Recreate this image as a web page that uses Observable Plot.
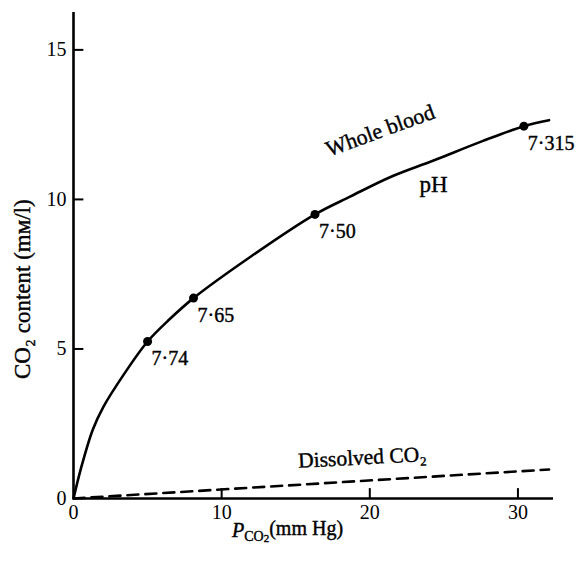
<!DOCTYPE html>
<html>
<head>
<meta charset="utf-8">
<script src="https://cdn.jsdelivr.net/npm/d3@7"></script>
<script src="https://cdn.jsdelivr.net/npm/@observablehq/plot@0.6"></script>
<style>
  html, body { margin: 0; padding: 0; background: #fff; }
  svg { display: block; }
</style>
</head>
<body>
<div id="chart"></div>
<script>
// Whole blood CO2 dissociation curve
const wholeX = [0, 0.5, 1.3, 2.0, 3.4, 5.0, 6.5, 8.1, 12.0, 16.3, 18.7, 21.4, 24.3, 27.6, 30.4, 32.1];
const wholeY = [0, 1.0, 2.3, 3.05, 4.15, 5.25, 6.0, 6.7, 8.1, 9.5, 10.1, 10.75, 11.3, 11.95, 12.45, 12.65];
// Marked pH points
const phX = [5.0, 8.1, 16.3, 30.4];
const phY = [5.25, 6.7, 9.5, 12.45];
const phLabels = ["7·74", "7·65", "7·50", "7·315"];
// Dissolved CO2 line
const dissX = [0, 32.1];
const dissY = [0, 0.97];
// Axis ticks
const xTicks = [0, 10, 20, 30];
const yTicks = [0, 5, 10, 15];

const whole = wholeX.map((x, i) => ({x, y: wholeY[i]}));
const ph = phX.map((x, i) => ({x, y: phY[i], label: phLabels[i]}));
const diss = dissX.map((x, i) => ({x, y: dissY[i]}));

const FONT = "Liberation Serif, Times New Roman, serif";
const txt = {fill: "#000", stroke: "#000", strokeWidth: 0.4};

const chart = Plot.plot({
  width: 581,
  height: 561,
  marginLeft: 73,
  marginRight: 28,
  marginTop: 12,
  marginBottom: 63,
  style: {fontFamily: FONT, fontSize: "20px", color: "#000", background: "#fff"},
  x: {domain: [0, 32.4]},
  y: {domain: [0, 16.25]},
  marks: [
    Plot.axisX({ticks: xTicks, tickSize: 0, tickPadding: 6, label: null, fontSize: 20, tickFormat: d => String(d), stroke: "#000", strokeWidth: 0.4}),
    Plot.axisY({ticks: yTicks, tickSize: 0, tickPadding: 7, label: null, fontSize: 20, tickFormat: d => String(d), stroke: "#000", strokeWidth: 0.4}),
    // axis lines
    Plot.ruleX([0], {y1: 0, y2: 16.25, stroke: "#000", strokeWidth: 2.6}),
    Plot.ruleY([0], {x1: 0, x2: 32.4, stroke: "#000", strokeWidth: 2.6}),
    // inward ticks
    Plot.ruleY(yTicks.filter(d => d > 0), {x1: 0, x2: 0.7, stroke: "#000", strokeWidth: 2}),
    Plot.ruleX(xTicks.filter(d => d > 0), {y1: 0, y2: 0.33, stroke: "#000", strokeWidth: 2}),
    // dissolved CO2
    Plot.line(diss, {x: "x", y: "y", stroke: "#000", strokeWidth: 2.6, strokeDasharray: "11,7"}),
    // whole blood curve
    Plot.line(whole, {x: "x", y: "y", stroke: "#000", strokeWidth: 2.6, curve: "catmull-rom"}),
    Plot.dot(ph, {x: "x", y: "y", r: 4.5, fill: "#000"}),
    Plot.text(ph, {x: "x", y: "y", text: "label", textAnchor: "start", dx: 4, dy: 17, fontSize: 20, ...txt}),
    // annotations
    Plot.text(["Whole blood"], {x: 20.7, y: 12.3, rotate: -20, fontSize: 22, ...txt}),
    Plot.text(["pH"], {x: 24.3, y: 10.5, fontSize: 23, ...txt}),
    Plot.text(["Dissolved CO₂"], {x: 19.5, y: 1.37, rotate: -3, fontSize: 21.5, ...txt}),
    // axis titles
    Plot.text(["CO₂ content (mᴍ/l)"], {x: -3.45, y: 7.0, rotate: -90, fontSize: 23, ...txt}),
    Plot.text(["XLABEL"], {x: 14.45, y: -1.07, fontSize: 20, className: "xlab", ...txt})
  ]
});

// Build the x-axis title with proper subscripts
const xl = d3.select(chart).selectAll(".xlab text");
xl.text(null);
xl.append("tspan").attr("font-style", "italic").text("P");
xl.append("tspan").attr("font-size", "14").attr("dy", "0.3em").text("CO");
xl.append("tspan").attr("font-size", "11").attr("dy", "0.05em").text("2");
xl.append("tspan").attr("dy", "-0.35em").text("(mm Hg)");

document.getElementById("chart").appendChild(chart);
</script>
</body>
</html>
